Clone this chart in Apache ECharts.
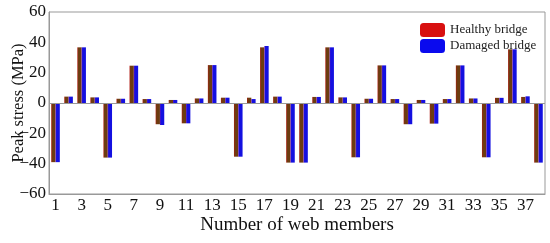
<!DOCTYPE html>
<html>
<head>
<meta charset="utf-8">
<script src="https://cdn.jsdelivr.net/npm/echarts@6/dist/echarts.min.js"></script>
<style>
  html, body { margin: 0; padding: 0; background: #fff; }
  #main { width: 550px; height: 243px; }
</style>
</head>
<body>
<div id="main"></div>
<script>
// web member numbers 1..38
const members = [];
for (let i = 1; i <= 38; i++) members.push(String(i));

// peak stress (MPa)
const healthy = [-39, 4.2, 36.7, 3.7, -36, 2.8, 24.6, 2.6, -14, 2,
  -13.4, 3, 25, 3.5, -35.4, 3.5, 36.7, 4.2, -39.3, -39.3,
  4, 36.7, 3.7, -35.8, 2.8, 24.8, 2.6, -14, 2, -13.6,
  2.6, 24.8, 3, -35.8, 3.4, 35.4, 4, -39.3];
const damaged = [-39, 4.2, 36.7, 3.7, -36, 2.8, 24.6, 2.6, -14.5, 2,
  -13.4, 3, 25, 3.5, -35.4, 2.6, 37.6, 4.2, -39.3, -39.3,
  4, 36.7, 3.7, -35.8, 2.8, 24.8, 2.6, -14, 2, -13.6,
  2.6, 24.8, 3, -35.8, 3.4, 35.4, 4.4, -39.3];

const font = 'Liberation Serif';
const chart = echarts.init(document.getElementById('main'));

const grad = (a, b) => new echarts.graphic.LinearGradient(0, 0, 1, 0, [
  { offset: 0, color: a }, { offset: 0.25, color: b }, { offset: 1, color: b }
]);

chart.setOption({
  animation: false,
  backgroundColor: '#fff',
  grid: {
    left: 49, right: 5, top: 12, bottom: 49,
    outerBoundsMode: 'none',
    show: true, borderColor: '#999', borderWidth: 1
  },
  legend: {
    orient: 'vertical',
    left: 415, top: 18,
    itemWidth: 25, itemHeight: 14, itemGap: 2,
    textStyle: { fontFamily: font, fontSize: 13, lineHeight: 14, color: '#222' },
    data: [
      { name: 'Healthy bridge', itemStyle: { color: '#d81010' } },
      { name: 'Damaged bridge', itemStyle: { color: '#0a0aee' } }
    ]
  },
  xAxis: {
    type: 'category',
    data: members,
    name: 'Number of web members',
    nameLocation: 'middle',
    nameGap: 22,
    nameMoveOverlap: false,
    nameTextStyle: { fontFamily: font, fontSize: 19, color: '#111', verticalAlign: 'top' },
    axisLine: { onZero: false, lineStyle: { color: '#999' } },
    axisTick: { show: false },
    axisLabel: { interval: 1, margin: 3, fontFamily: font, fontSize: 17, color: '#111' }
  },
  yAxis: {
    type: 'value',
    min: -60, max: 60, interval: 20,
    name: 'Peak stress (MPa)',
    nameLocation: 'middle',
    nameGap: 22,
    nameMoveOverlap: false,
    nameTextStyle: { fontFamily: font, fontSize: 16.5, color: '#111' },
    axisLine: { show: true, lineStyle: { color: '#999' } },
    axisTick: { show: false },
    splitLine: { show: false },
    axisLabel: {
      margin: 3, fontFamily: font, fontSize: 17, color: '#111',
      formatter: v => String(v).replace('-', '\u2212')
    }
  },
  series: [
    {
      name: 'Healthy bridge',
      type: 'bar',
      data: healthy,
      barWidth: 4.3,
      barGap: '0%',
      itemStyle: { color: grad('#b01a12', '#6d3c10') },
      markLine: {
        silent: true, symbol: 'none', label: { show: false },
        lineStyle: { color: '#999', type: 'solid', width: 1 },
        data: [{ yAxis: 0 }]
      }
    },
    {
      name: 'Damaged bridge',
      type: 'bar',
      data: damaged,
      barWidth: 4.3,
      itemStyle: { color: grad('#6a16b8', '#1410e0') }
    }
  ]
});
</script>
</body>
</html>
